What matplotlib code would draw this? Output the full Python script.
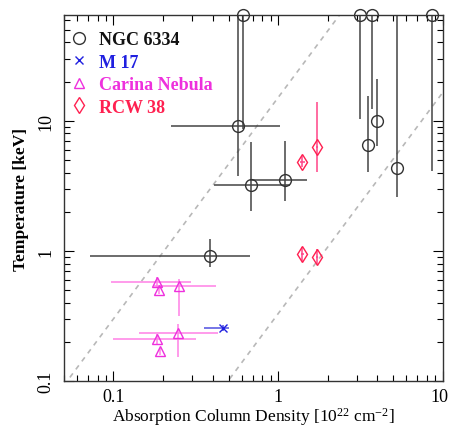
import numpy as np
import matplotlib
matplotlib.use("Agg")
import matplotlib.pyplot as plt
import matplotlib.transforms as mtransforms
from matplotlib.ticker import FixedLocator, FixedFormatter, LogLocator, NullFormatter

plt.rcParams['font.family'] = ['Liberation Serif', 'DejaVu Serif']
plt.rcParams['mathtext.fontset'] = 'custom'
plt.rcParams['mathtext.rm'] = 'Liberation Serif'
plt.rcParams['mathtext.it'] = 'Liberation Serif:italic'
plt.rcParams['mathtext.bf'] = 'Liberation Serif:bold'

# NGC 6334 (top-edge points are lower limits pegged at the top)
ngc_x = [0.61, 0.574, 0.687, 1.10, 0.384, 3.16, 3.73, 8.6, 4.0, 3.53, 5.28]
ngc_xlo = [0.30, 0.224, 0.406, 0.678, 0.0717, 3.16, 3.73, 8.6, 4.0, 3.53, 5.28]
ngc_xhi = [1.35, 1.03, 1.18, 1.50, 0.678, 3.16, 3.73, 8.6, 4.0, 3.53, 5.28]
ngc_y = [65, 9.15, 3.22, 3.52, 0.915, 65, 65, 65, 10.0, 6.5, 4.35]
ngc_ylo = [8.7, 3.78, 2.03, 2.42, 0.753, 10.4, 12.4, 4.1, 6.4, 4.05, 2.6]
ngc_yhi = [65, 100, 6.89, 7.0, 1.24, 65, 65, 65, 21, 15.6, 100]

# M 17
m17_x = [0.46]
m17_xlo = [0.353]
m17_xhi = [0.50]
m17_y = [0.256]
m17_ylo = [0.245]
m17_yhi = [0.268]

# Carina Nebula
car_x = [0.184, 0.189, 0.25, 0.184, 0.192, 0.246]
car_xlo = [0.097, 0.189, 0.177, 0.10, 0.192, 0.143]
car_xhi = [0.295, 0.189, 0.417, 0.316, 0.192, 0.43]
car_y = [0.578, 0.50, 0.538, 0.21, 0.17, 0.234]
car_ylo = [0.53, 0.47, 0.316, 0.19, 0.16, 0.153]
car_yhi = [0.63, 0.53, 0.61, 0.23, 0.18, 0.274]

# RCW 38
rcw_x = [1.72, 1.40, 1.40, 1.72]
rcw_xlo = [1.69, 1.36, 1.37, 1.69]
rcw_xhi = [1.75, 1.45, 1.43, 1.75]
rcw_y = [6.3, 4.84, 0.948, 0.90]
rcw_ylo = [4.05, 4.43, 0.84, 0.79]
rcw_yhi = [14, 5.4, 1.07, 1.03]

# dashed reference lines: kT = A * NH^slope
line_slope = 1.7
line_amp = [15.1, 0.33]

fig = plt.figure(figsize=(4.5, 4.27), dpi=100)
ax = fig.add_axes([0.142, 0.105, 0.842, 0.8575])
ax.set_xscale('log')
ax.set_yscale('log')
ax.set_xlim(0.05, 10)
ax.set_ylim(0.1, 65)

xx = np.logspace(np.log10(0.05), 1, 200)
for a in line_amp:
    ax.plot(xx, a * xx ** line_slope, ls=(0, (3, 3)), color='#b8b8b8', lw=1.2, zorder=1)


def draw(x, xlo, xhi, y, ylo, yhi, ecol, mcol, marker, ms, label):
    x = np.array(x); y = np.array(y)
    xerr = [x - np.array(xlo), np.array(xhi) - x]
    yerr = [y - np.array(ylo), np.array(yhi) - y]
    ax.errorbar(x, y, xerr=xerr, yerr=yerr, fmt='none', ecolor=ecol, elinewidth=1.1, capsize=0, zorder=2)
    ax.plot(x, y, ls='none', marker=marker, ms=ms, mfc='none', mec=mcol, mew=1.0,
            clip_on=False, zorder=3, label=label)


draw(ngc_x, ngc_xlo, ngc_xhi, ngc_y, ngc_ylo, ngc_yhi, '#444444', '#333333', 'o', 8.5, 'NGC 6334')
draw(m17_x, m17_xlo, m17_xhi, m17_y, m17_ylo, m17_yhi, '#5050e0', '#2020e0', 'x', 6, 'M 17')
draw(car_x, car_xlo, car_xhi, car_y, car_ylo, car_yhi, '#ff80e6', '#ee30dd', '^', 7, 'Carina Nebula')
draw(rcw_x, rcw_xlo, rcw_xhi, rcw_y, rcw_ylo, rcw_yhi, '#ff4488', '#ff2050', 'd', 8, 'RCW 38')

ax.xaxis.set_major_locator(FixedLocator([0.1, 1, 10]))
ax.xaxis.set_major_formatter(FixedFormatter(['0.1', '1', '10']))
ax.yaxis.set_major_locator(FixedLocator([0.1, 1, 10]))
ax.yaxis.set_major_formatter(FixedFormatter(['0.1', '1', '10']))
ax.xaxis.set_minor_locator(LogLocator(base=10, subs=np.arange(2, 10)))
ax.yaxis.set_minor_locator(LogLocator(base=10, subs=np.arange(2, 10)))
ax.xaxis.set_minor_formatter(NullFormatter())
ax.yaxis.set_minor_formatter(NullFormatter())
ax.tick_params(which='both', direction='in', top=True, right=True, labelsize=13, width=0.8)
ax.tick_params(which='major', length=7)
ax.tick_params(which='minor', length=4)
ax.tick_params(axis='x', pad=5)
ax.tick_params(axis='y', pad=7)
for lab in ax.get_yticklabels():
    lab.set_rotation(90)
    lab.set_va('center')
# keep the last x label inside the figure
last = ax.get_xticklabels()[-1]
last.set_ha('right')
last.set_transform(last.get_transform() + mtransforms.ScaledTranslation(6 / 100, 0, fig.dpi_scale_trans))
for s in ax.spines.values():
    s.set_linewidth(1.0)
    s.set_color('#333333')

ax.set_xlabel(r'Absorption Column Density [10$^{22}$ cm$^{-2}$]', fontsize=12.5, labelpad=0)
ax.set_ylabel('Temperature [keV]', fontsize=12.5, fontweight='bold', labelpad=6)

leg = ax.legend(loc='upper left', bbox_to_anchor=(-0.012, 0.99), frameon=False, handlelength=0.8,
                handletextpad=0.7, labelspacing=0.3, borderaxespad=0.3,
                prop={'weight': 'bold', 'size': 13})
for txt, col in zip(leg.get_texts(), ['#111111', '#2020e0', '#ee30dd', '#ff2050']):
    txt.set_color(col)

fig.savefig('out.png', dpi=100)
